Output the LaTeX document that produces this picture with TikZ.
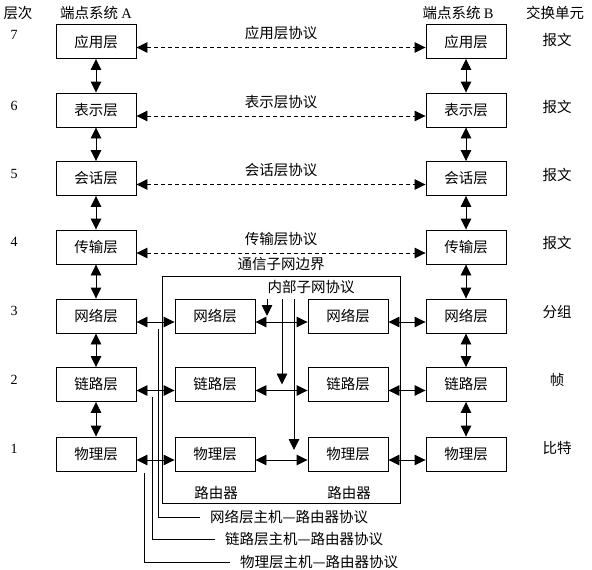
\documentclass[tikz,border=0pt]{standalone}
\usepackage{fontspec}
\setmainfont{Liberation Serif}
\newfontfamily\cjk{Noto Sans CJK SC}
\usetikzlibrary{arrows.meta}
\begin{document}
\begin{tikzpicture}[x=1pt,y=-1pt,
  font=\cjk\fontsize{14.5}{16}\selectfont,
  layerbox/.style={draw,line width=0.9pt,minimum width=80pt,minimum height=34pt,inner sep=0pt},
  lbl/.style={inner sep=0pt},
  arr/.style={{Triangle[length=11pt,width=10.5pt]}-{Triangle[length=11pt,width=10.5pt]},line width=0.9pt},
  darr/.style={arr,dash pattern=on 4pt off 3pt},
  oarr/.style={-{Triangle[length=11pt,width=10.5pt]},line width=0.9pt},
  plain/.style={line width=0.9pt}]
\useasboundingbox (0,0) rectangle (592,570);
% headers
\node[lbl] (h0) at (18,13) {层次};
\node[lbl] (hA) at (96,13) {端点系统 {\rmfamily A}};
\node[lbl] (hB) at (458,13) {端点系统 {\rmfamily B}};
\node[lbl] (hU) at (555,13) {交换单元};
% layer numbers
\foreach \n/\y in {7/35,6/106,5/174,4/242,3/311,2/380,1/449}
  \node[lbl,font=\rmfamily\fontsize{14}{15}\selectfont] (num\n) at (14,\y) {\n};
% end systems
\foreach \n/\y/\t in {7/41.5/应用层,6/110/表示层,5/178.5/会话层,4/247/传输层,3/316/网络层,2/384.5/链路层,1/454/物理层}{
  \node[layerbox] (A\n) at (96,\y) {\t};
  \node[layerbox] (B\n) at (466,\y) {\t};
}
% routers
\foreach \n/\y/\t in {3/316/网络层,2/384.5/链路层,1/454/物理层}{
  \node[layerbox] (R\n) at (215,\y) {\t};
  \node[layerbox] (S\n) at (348,\y) {\t};
}
% exchange units
\node[lbl] (u7) at (557,40) {报文};
\node[lbl] (u6) at (557,107) {报文};
\node[lbl] (u5) at (557,175) {报文};
\node[lbl] (u4) at (557,243) {报文};
\node[lbl] (u3) at (557,312) {分组};
\node[lbl] (u2) at (557,380) {帧};
\node[lbl] (u1) at (557,448) {比特};
% vertical arrows
\foreach \a/\b in {7/6,6/5,5/4,4/3,3/2,2/1}{
  \draw[arr] (A\a.south) -- (A\b.north);
  \draw[arr] (B\a.south) -- (B\b.north);
}
% peer protocols
\foreach \n/\t in {7/应用层协议,6/表示层协议,5/会话层协议,4/传输层协议}{
  \draw[darr] ([yshift=-6pt]A\n.east) -- node[lbl,above=7pt] (p\n) {\t} ([yshift=-6pt]B\n.east -| B\n.west);
}
% subnet boundary
\node[draw,line width=0.9pt,minimum width=238pt,minimum height=227pt,inner sep=0pt] (sub) at (281,389.5) {};
\node[lbl] (subl) at (281,264) {通信子网边界};
\node[lbl] (inl) at (311,287) {内部子网协议};
% horizontal arrows
\foreach \n in {3,2,1}{
  \draw[arr] ([yshift=-6pt]A\n.east) -- ([yshift=-6pt]R\n.west);
  \draw[arr] ([yshift=-6pt]R\n.east) -- ([yshift=-6pt]S\n.west);
  \draw[arr] ([yshift=-6pt]S\n.east) -- ([yshift=-6pt]B\n.west);
}
% inner protocol arrows
\coordinate (i1) at (267,299);
\coordinate (i2) at (282,299);
\coordinate (i3) at (294,299);
\draw[oarr] (i1) -- (i1 |- R3);
\draw[oarr] (i2) -- (i2 |- R2);
\draw[oarr] (i3) -- ([yshift=4pt]i3 |- R1);
% router labels
\node[lbl] (rl1) at (216,493) {路由器};
\node[lbl] (rl2) at (349,493) {路由器};
% host-router protocols
\coordinate (h3t) at (158,329);
\coordinate (h3b) at (158,517);
\coordinate (h2t) at (152,397);
\coordinate (h2b) at (152,539);
\coordinate (h1t) at (144,473);
\coordinate (h1b) at (144,562);
\node[lbl,anchor=west] (t3) at (210,517) {网络层主机—路由器协议};
\node[lbl,anchor=west] (t2) at (225,539) {链路层主机—路由器协议};
\node[lbl,anchor=west] (t1) at (240,562) {物理层主机—路由器协议};
\draw[plain] (h3t) -- (h3b) -- ([xshift=-10pt]t3.west);
\draw[plain] (h2t) -- (h2b) -- ([xshift=-10pt]t2.west);
\draw[plain] (h1t) -- (h1b) -- ([xshift=-10pt]t1.west);
\end{tikzpicture}
\end{document}
